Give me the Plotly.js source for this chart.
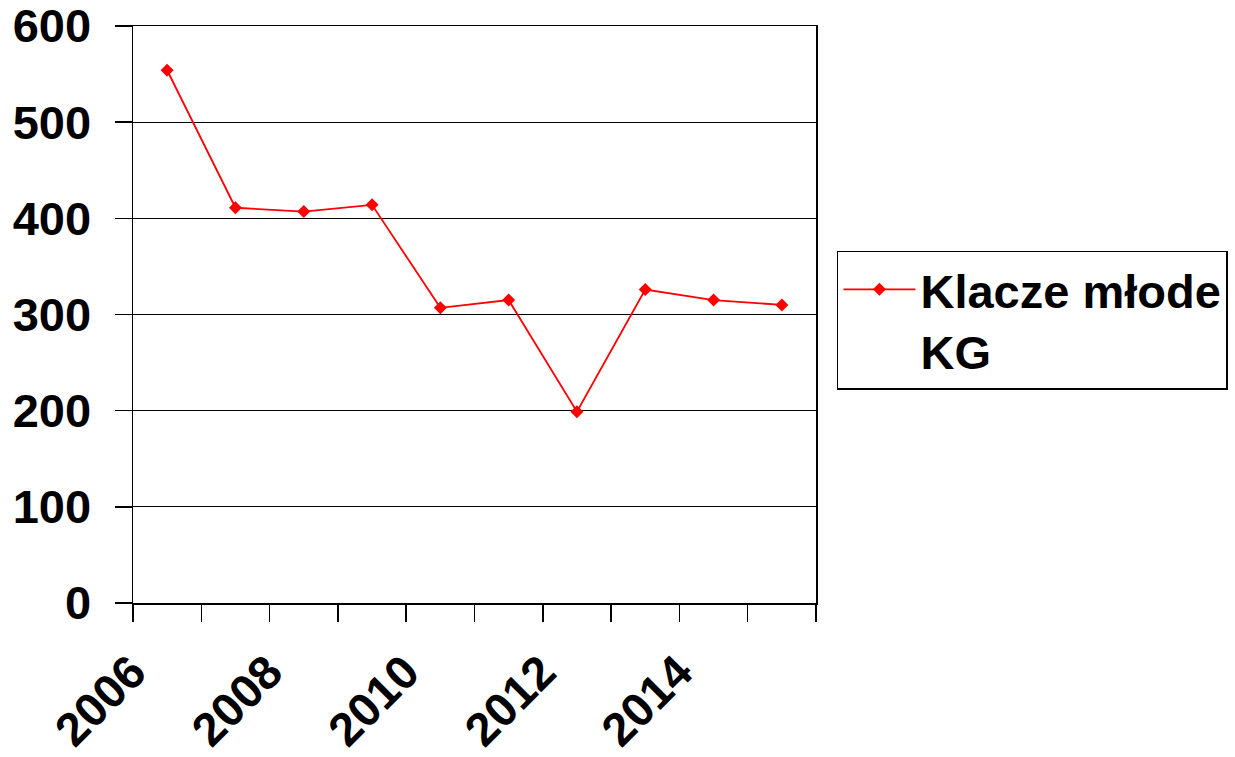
<!DOCTYPE html>
<html>
<head>
<meta charset="utf-8">
<script src="https://cdn.plot.ly/plotly-3.0.1.min.js"></script>
<style>html,body{margin:0;padding:0;background:#fff;}#chart{width:1235px;height:757px;}</style>
</head>
<body>
<div id="chart"></div>
<script>
const years = [2006, 2007, 2008, 2009, 2010, 2011, 2012, 2013, 2014, 2015];
const values = [554, 411, 407, 414, 307, 315, 199, 326, 315, 310];
const xTickLabels = ['2006', '2008', '2010', '2012', '2014'];
const xTickVals = [2006, 2008, 2010, 2012, 2014];
const yTickVals = [0, 100, 200, 300, 400, 500, 600];
const seriesName = 'Klacze młode<br>KG';

const FONT = {family: 'Liberation Sans, Arial, sans-serif', size: 47, color: '#000', weight: 700};

const trace = {
  x: years, y: values, type: 'scatter', mode: 'lines+markers', name: seriesName,
  line: {color: '#ff0000', width: 1.8},
  marker: {symbol: 'diamond', size: 10, color: '#ff0000'}
};

const layout = {
  width: 1235, height: 757,
  margin: {l: 133, r: 419, t: 25.5, b: 153.7, pad: 0, autoexpand: false},
  paper_bgcolor: '#fff', plot_bgcolor: '#fff',
  font: FONT,
  showlegend: true,
  legend: {
    x: 1.0307, y: 0.6105, xanchor: 'left', yanchor: 'top',
    bordercolor: '#000', borderwidth: 1.5, bgcolor: '#fff',
    font: FONT, valign: 'top', itemwidth: 72,
    tracegroupgap: 0
  },
  xaxis: {
    range: [2005.5, 2015.5],
    tickmode: 'array', tickvals: xTickVals, ticktext: xTickLabels,
    tickangle: -45, ticks: '', showgrid: false, zeroline: false,
    showline: true, linecolor: '#000', linewidth: 1.5, mirror: true,
    tickfont: FONT, ticklabelshift: -35, ticklabelstandoff: 21,
    ticklabeloverflow: 'allow', automargin: false,
    minor: {ticks: 'outside', tick0: 2005.5, dtick: 1, ticklen: 17, tickwidth: 1.5, tickcolor: '#000', showgrid: false}
  },
  yaxis: {
    range: [0, 600],
    tickmode: 'array', tickvals: yTickVals,
    ticks: 'outside', ticklen: 17, tickwidth: 1.5, tickcolor: '#000',
    showgrid: true, gridcolor: '#000', gridwidth: 1.3,
    zeroline: false, showline: true, linecolor: '#000', linewidth: 1.5, mirror: true,
    tickfont: FONT, ticklabelstandoff: 14,
    ticklabeloverflow: 'allow', automargin: false
  }
};

Plotly.newPlot('chart', [trace], layout, {staticPlot: true, displayModeBar: false});
</script>
</body>
</html>
